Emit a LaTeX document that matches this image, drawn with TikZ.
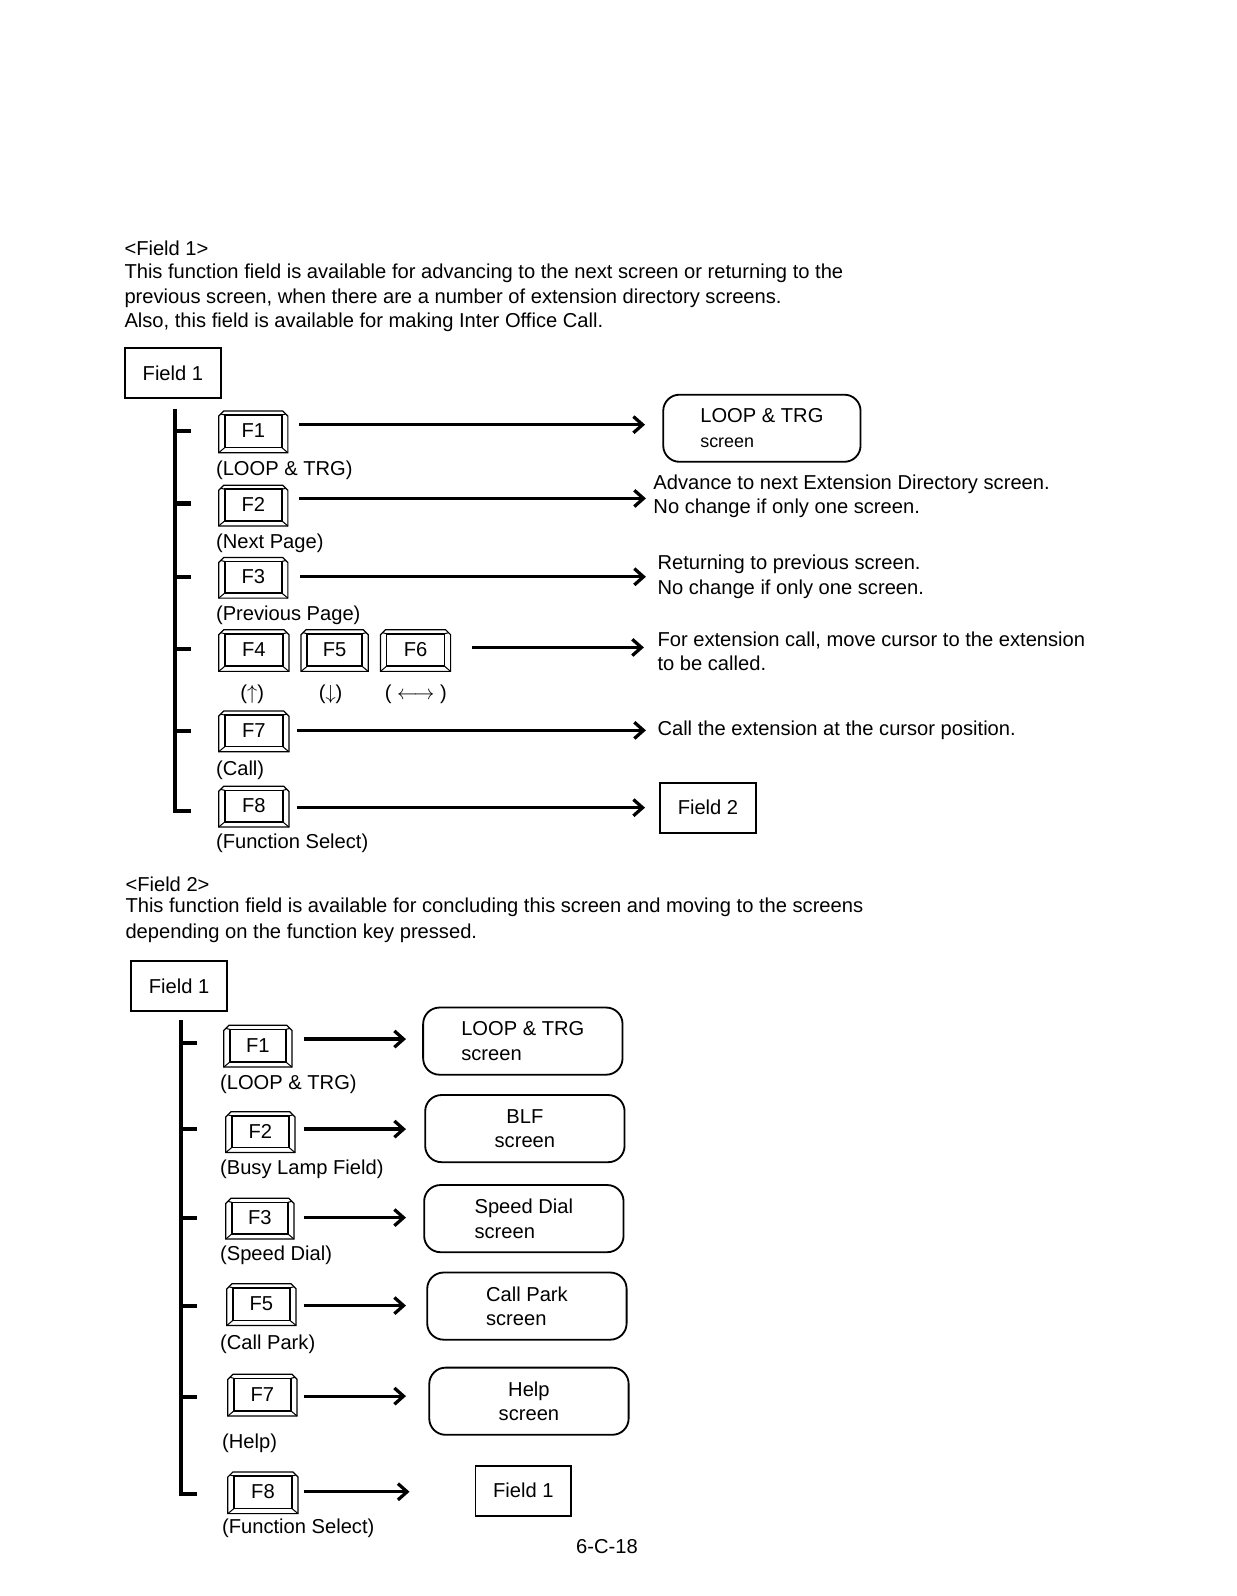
\documentclass[tikz,border=0pt]{standalone}
\usepackage{fontspec}
\setmainfont{Liberation Sans}
\usetikzlibrary{arrows.meta}
\newcommand\keycap[6]{%
  \node[keynode, minimum width={(#4-#2)*0.5pt}, minimum height={(#5-#3)*0.5pt}] (#1) at ({(#2+#4)/2},{(#3+#5)/2-1}) {#6};
  \draw[keyline] (#2,#5) -- (#2,#3+5) -- (#2+5,#3) -- (#4-5,#3) -- (#4,#3+5) -- (#4,#5) -- cycle;
  \draw[keyin] (#2+6,#3+4) rectangle (#4-6,#5-5);
  \draw[keythin] (#2+6,#3+4) -- (#2+2,#3+3) (#4-6,#3+4) -- (#4-2,#3+3)
                 (#2+6,#5-5) -- (#2,#5) (#4-6,#5-5) -- (#4,#5);
}
\begin{document}
\begin{tikzpicture}[x=0.5pt,y=-0.5pt,
  every node/.style={font=\fontsize{9.9}{12}\selectfont, inner sep=0pt},
  txt/.style={anchor=base west},
  keynode/.style={inner sep=0pt},
  keyline/.style={line width=0.6pt},
  keyin/.style={line width=0.8pt},
  keythin/.style={line width=0.5pt},
  fieldbox/.style={draw, line width=0.9pt, minimum width=47pt, minimum height=24.5pt},
  screenbox/.style={draw, rounded corners=8pt, line width=0.9pt, minimum width=97pt, minimum height=33pt},
  arr/.style={line width=1.6pt, -{Straight Barb[length=4.5pt,width=8pt]}},
  barline/.style={line width=2pt}]
\useasboundingbox (0,0) rectangle (1216,1569);

% ---------------- Section 1 ----------------
\node[txt] (h1) at (122,251) {<Field 1>};
\node[txt] (p1) at (122,274) {This function field is available for advancing to the next screen or returning to the};
\node[txt] (p2) at (122,298) {previous screen, when there are a number of extension directory screens.};
\node[txt] (p3) at (122,322) {Also, this field is available for making Inter Office Call.};

\node[fieldbox] (fa) at (170,367) {Field 1};

\coordinate (ba) at (172,402);
\coordinate (bb) at (172,797);
\coordinate (bc) at (188,797);
\draw[barline] (ba) -- (bb) -- (bc);
\foreach \yy in {424,495,567,638,719} \draw[barline] (172,\yy) -- (188,\yy);

\keycap{k1}{215}{404}{283}{445}{F1}
\keycap{k2}{215}{477}{283}{517}{F2}
\keycap{k3}{215}{548}{283}{588}{F3}
\keycap{k4}{215}{619}{284}{660}{F4}
\keycap{k5}{296}{619}{362}{660}{F5}
\keycap{k6}{374}{619}{443}{660}{F6}
\keycap{k7}{215}{699}{284}{739}{F7}
\keycap{k8}{215}{773}{284}{813}{F8}

\node[txt] (l1) at (212,467) {(LOOP \& TRG)};
\node[txt] (l2) at (212,539) {(Next Page)};
\node[txt] (l3) at (212,610) {(Previous Page)};
\node[txt] (l4) at (236,688) {($\uparrow$)};
\node[txt] (l5) at (313,688) {($\downarrow$)};
\node[txt] (l6) at (378,688) {( $\longleftrightarrow$ )};
\node[txt] (l7) at (212,762) {(Call)};
\node[txt] (l8) at (212,834) {(Function Select)};

\node[screenbox, align=left] (t1) at (749,421) {LOOP \& TRG\\{\fontsize{8.8}{12}\selectfont screen}};
\node[anchor=west, align=left] (t2) at (642,488) {Advance to next Extension Directory screen.\\No change if only one screen.};
\node[anchor=west, align=left] (t3) at (646,567) {Returning to previous screen.\\No change if only one screen.};
\node[anchor=west, align=left] (t4) at (646,640) {For extension call, move cursor to the extension\\to be called.};
\node[anchor=west] (t5) at (646,718) {Call the extension at the cursor position.};
\node[fieldbox] (t6) at (696,794) {Field 2};

\draw[arr, shorten <=5.5pt, shorten >=8.5pt] ([yshift=3pt]k1.east) -- ([yshift=3pt]k1.east -| t1.west);
\draw[arr, shorten <=5.5pt, shorten >=3.5pt] ([yshift=3pt]k2.east) -- ([yshift=3pt]k2.east -| t2.west);
\draw[arr, shorten <=6pt, shorten >=5.5pt] (k3.east) -- (k3.east -| t3.west);
\draw[arr, shorten <=10.5pt, shorten >=6.5pt] ([yshift=1pt]k6.east) -- ([yshift=1pt]k6.east -| t4.west);
\draw[arr, shorten <=4pt, shorten >=5.5pt] (k7.east) -- (k7.east -| t5.west);
\draw[arr, shorten <=4pt, shorten >=7pt] ([yshift=-1pt]k8.east) -- ([yshift=-1pt]k8.east -| t6.west);

% ---------------- Section 2 ----------------
\node[txt] (h2) at (123,876) {<Field 2>};
\node[txt] (q1) at (123,897) {This function field is available for concluding this screen and moving to the screens};
\node[txt] (q2) at (123,923) {depending on the function key pressed.};

\node[fieldbox] (fb) at (176,969.5) {Field 1};

\coordinate (ca) at (178,1003);
\coordinate (cb) at (178,1469);
\coordinate (cc) at (194,1469);
\draw[barline] (ca) -- (cb) -- (cc);
\foreach \yy in {1025,1110,1197,1284,1373} \draw[barline] (178,\yy) -- (194,\yy);

\keycap{g1}{220}{1008}{287}{1049}{F1}
\keycap{g2}{222}{1093}{290}{1133}{F2}
\keycap{g3}{222}{1178}{289}{1218}{F3}
\keycap{g5}{223}{1262}{291}{1303}{F5}
\keycap{g7}{224}{1351}{292}{1392}{F7}
\keycap{g8}{224}{1447}{293}{1488}{F8}

\node[txt] (m1) at (216,1071) {(LOOP \& TRG)};
\node[txt] (m2) at (216,1155) {(Busy Lamp Field)};
\node[txt] (m3) at (216,1239) {(Speed Dial)};
\node[txt] (m5) at (216,1327) {(Call Park)};
\node[txt] (m7) at (218,1424) {(Help)};
\node[txt] (m8) at (218,1508) {(Function Select)};

\node[screenbox, minimum width=98pt, align=left] (s1) at (514,1023.5) {LOOP \& TRG\\screen};
\node[screenbox, minimum width=98pt, align=center] (s2) at (516,1109.5) {BLF\\screen};
\node[screenbox, minimum width=98pt, align=left] (s3) at (515,1198) {Speed Dial\\screen};
\node[screenbox, minimum width=98pt, align=left] (s4) at (518,1284) {Call Park\\screen};
\node[screenbox, minimum width=98pt, align=center] (s5) at (520,1377.5) {Help\\screen};
\node[fieldbox] (s6) at (514.5,1465.5) {Field 1};

\draw[arr, shorten <=5.5pt, shorten >=8pt] ([yshift=3pt]g1.east) -- ([yshift=3pt]g1.east -| s1.west);
\draw[arr, shorten <=4pt, shorten >=9pt] ([yshift=1pt]g2.east) -- ([yshift=1pt]g2.east -| s2.west);
\draw[arr, shorten <=4.5pt, shorten >=8.5pt] (g3.east) -- (g3.east -| s3.west);
\draw[arr, shorten <=3.5pt, shorten >=10pt] ([yshift=-1pt]g5.east) -- ([yshift=-1pt]g5.east -| s4.west);
\draw[arr, shorten <=3pt, shorten >=11pt] ([yshift=-1pt]g7.east) -- ([yshift=-1pt]g7.east -| s5.west);
\draw[arr, shorten <=2.5pt, shorten >=32pt] (g8.east) -- (g8.east -| s6.west);

\node[txt] (pg) at (566,1527) {6-C-18};
\end{tikzpicture}
\end{document}
